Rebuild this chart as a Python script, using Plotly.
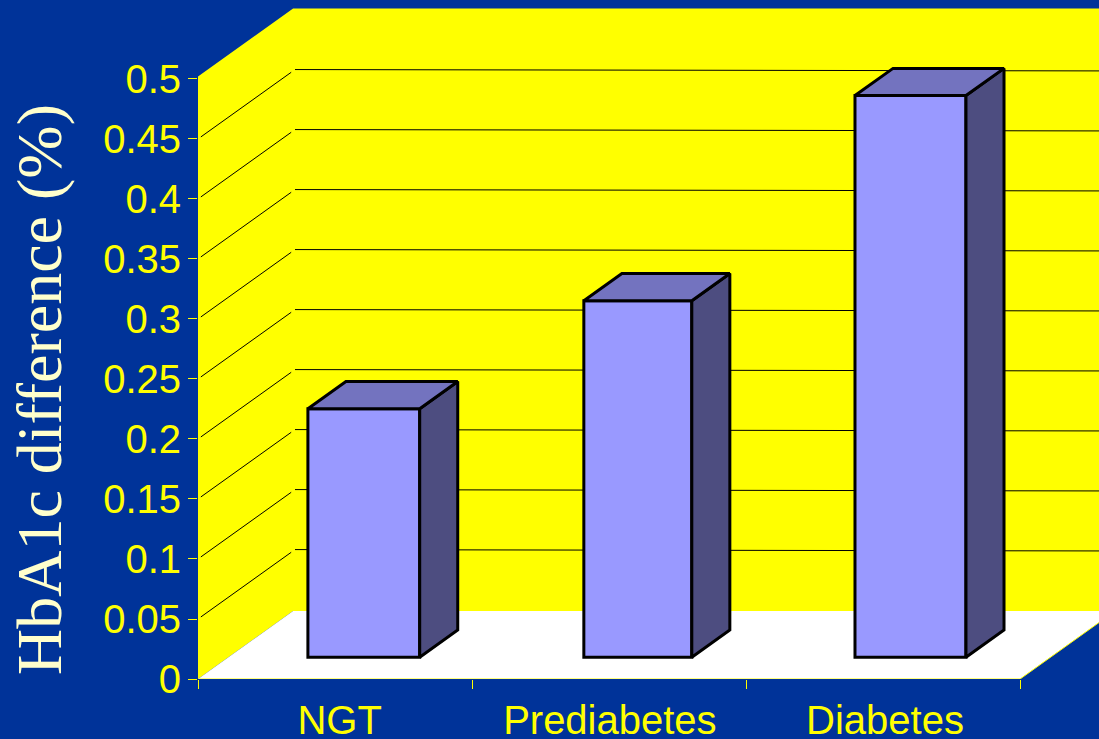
import plotly.graph_objects as go

# Chart data
categories = ["NGT", "Prediabetes", "Diabetes"]
hba1c_difference = [0.207, 0.297, 0.468]
y_ticks = [0, 0.05, 0.1, 0.15, 0.2, 0.25, 0.3, 0.35, 0.4, 0.45, 0.5]
y_tick_labels = ["0", "0.05", "0.1", "0.15", "0.2", "0.25", "0.3", "0.35", "0.4", "0.45", "0.5"]

# Colours
BLUE = "#003399"
YELLOW = "#FFFF00"
TITLE = "#FFFFCC"
BAR_FRONT = "#9999FF"
BAR_SIDE = "#4D4D80"
BAR_TOP = "#7373BF"

# Plot-area extents, in data units
X_MAX = 3.288
Y_MAX = 0.5658

# Oblique projection of the depth axis, in data units per full chart depth
DEPTH_X = 0.347
DEPTH_Y = 0.0567
WALL_HEADROOM = 0.002

# Bars sit part-way along the depth axis
BAR_NEAR = 0.32
BAR_DEEP = 0.40
BAR_WIDTHS = [0.408, 0.394, 0.405]
BAR_NUDGE = [-0.006, -0.006, -0.011]
LABEL_NUDGE = [0.017, 0.003, 0.007]
EDGE = 3


def project(x, v, depth):
    return x + depth * DEPTH_X, v + depth * DEPTH_Y


def polygon(points, color):
    path = "M " + " L ".join(f"{x},{y}" for x, y in points) + " Z"
    return dict(type="path", xref="x", yref="y", path=path, fillcolor=color,
                line=dict(width=0), layer="below")


def segment(p, q, color, width=1):
    return dict(type="line", xref="x", yref="y", x0=p[0], y0=p[1], x1=q[0], y1=q[1],
                line=dict(color=color, width=width), layer="below")


top = y_ticks[-1] + WALL_HEADROOM
shapes = [
    # left wall and back wall as one outline, then the floor
    polygon([project(0, 0, 0), project(0, top, 0), project(0, top, 1), (X_MAX, top + DEPTH_Y),
             (X_MAX, DEPTH_Y), project(0, 0, 1)], YELLOW),
    polygon([project(0, 0, 0), project(0, 0, 1), (X_MAX, DEPTH_Y),
             (X_MAX, DEPTH_Y * (X_MAX - 3) / DEPTH_X), (3, 0)], "#FFFFFF"),
    segment((0, 0), (3, 0), YELLOW),
    segment((3, 0), project(3, 0, 1), YELLOW),
]

# gridlines run along the left wall, then across the back wall
for v in y_ticks[1:-1]:
    shapes.append(segment(project(0, v, 0.03), project(0, v, 0.98), "#000000"))
    shapes.append(segment(project(0, v, 1.02), (X_MAX, v + DEPTH_Y), "#000000"))

centers = [i + 0.5 + n for i, n in enumerate(BAR_NUDGE)]
bar_x = [c + BAR_NEAR * DEPTH_X for c in centers]
bar_base = [BAR_NEAR * DEPTH_Y] * len(categories)
label_x = [i + 0.5 + n for i, n in enumerate(LABEL_NUDGE)]

fig = go.Figure()
fig.add_trace(go.Bar(
    x=bar_x, y=hba1c_difference, base=bar_base, width=BAR_WIDTHS,
    marker=dict(color=BAR_FRONT, line=dict(color="#000000", width=EDGE)),
    hoverinfo="skip", showlegend=False,
))

# side and top faces of each bar
for c, v, w in zip(centers, hba1c_difference, BAR_WIDTHS):
    left, right = c - w / 2, c + w / 2
    side = [project(right, 0, BAR_NEAR), project(right, v, BAR_NEAR),
            project(right, v, BAR_NEAR + BAR_DEEP), project(right, 0, BAR_NEAR + BAR_DEEP),
            project(right, 0, BAR_NEAR)]
    roof = [project(left, v, BAR_NEAR), project(left, v, BAR_NEAR + BAR_DEEP),
            project(right, v, BAR_NEAR + BAR_DEEP), project(right, v, BAR_NEAR),
            project(left, v, BAR_NEAR)]
    for pts, color in ((side, BAR_SIDE), (roof, BAR_TOP)):
        fig.add_trace(go.Scatter(
            x=[p[0] for p in pts], y=[p[1] for p in pts], mode="lines",
            fill="toself", fillcolor=color, line=dict(color="#000000", width=EDGE),
            hoverinfo="skip", showlegend=False,
        ))

fig.update_layout(
    width=1099, height=739, autosize=False,
    margin=dict(l=198, r=0, t=0, b=60, autoexpand=False),
    paper_bgcolor=BLUE, plot_bgcolor=BLUE,
    font=dict(family="Liberation Sans, Arial, sans-serif", color=YELLOW),
    shapes=shapes,
    xaxis=dict(
        range=[0, X_MAX], showgrid=False, zeroline=False, showline=False, automargin=False,
        tickmode="array", tickvals=label_x, ticktext=categories,
        ticks="outside", ticklen=6, tickcolor="rgba(0,0,0,0)",
        tickfont=dict(size=40, color=YELLOW),
        minor=dict(tickmode="array", tickvals=[0, 1, 2, 3], ticks="outside",
                   ticklen=9, tickwidth=1, tickcolor=YELLOW, showgrid=False),
    ),
    yaxis=dict(
        range=[0, Y_MAX], showgrid=False, zeroline=False, showline=False, automargin=False,
        tickmode="array", tickvals=y_ticks, ticktext=y_tick_labels,
        ticks="outside", ticklen=9, tickwidth=1, tickcolor=YELLOW,
        ticklabelstandoff=-1,
        tickfont=dict(size=40, color=YELLOW),
    ),
    annotations=[dict(
        text="HbA1c difference (%)", textangle=-90, showarrow=False,
        xref="paper", yref="paper", x=-158 / 901, y=(679 - 390) / 679,
        xanchor="center", yanchor="middle",
        font=dict(family="Liberation Serif, Times New Roman, serif", size=64, color=TITLE),
    )],
)

fig.write_html("out.html", config=dict(displayModeBar=False))
